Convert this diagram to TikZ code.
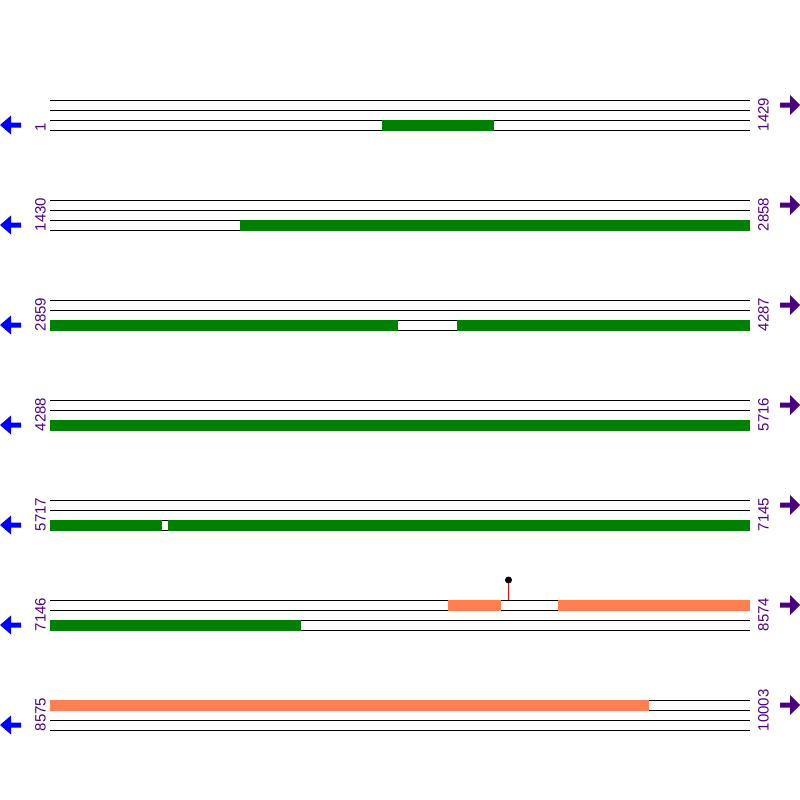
\documentclass[tikz,border=0pt]{standalone}
\usepackage{fontspec}
\setmainfont{Liberation Sans}
\definecolor{orfgreen}{HTML}{008000}
\definecolor{utrcoral}{HTML}{FF7F50}
\definecolor{lblpurple}{HTML}{4B0082}
\definecolor{revblue}{HTML}{0000FF}
\begin{document}
\begin{tikzpicture}[x=1pt,y=-1pt,
  track/.style={black, line width=1pt},
  gbar/.style={fill=orfgreen},
  cbar/.style={fill=utrcoral},
  poslabel/.style={text=lblpurple, font=\fontsize{15}{17}\selectfont, inner sep=0pt, rotate=90, anchor=west},
  revarrow/.style={fill=revblue},
  fwdarrow/.style={fill=lblpurple}]
\useasboundingbox (0,0) rectangle (800,800);
\foreach \i/\l/\r in {1/1/1429, 2/1430/2858, 3/2859/4287, 4/4288/5716, 5/5717/7145, 6/7146/8574, 7/8575/10003} {
  \pgfmathsetmacro\yy{100*\i}
  \foreach \k in {0,10,20,30} {\draw[track] (50,\yy+\k) -- (750,\yy+\k);}
  \node[poslabel] (L\i) at (40.5,\yy+31.5) {\l};
  \node[poslabel] (R\i) at (763.5,\yy+31.5) {\r};
  \fill[revarrow] (0,\yy+25) -- (11,\yy+15.5) -- (11,\yy+22.5) -- (21,\yy+22.5) -- (21,\yy+27.5) -- (11,\yy+27.5) -- (11,\yy+34.5) -- cycle;
  \fill[fwdarrow] (800,\yy+5) -- (790,\yy-5) -- (790,\yy+2.5) -- (780,\yy+2.5) -- (780,\yy+7.5) -- (790,\yy+7.5) -- (790,\yy+15) -- cycle;
}
% row 1
\fill[gbar] (382,119.5) rectangle (494,130.5);
% row 2
\fill[gbar] (240,219.5) rectangle (750,230.5);
% row 3
\fill[gbar] (50,319.5) rectangle (398,330.5);
\fill[gbar] (457,319.5) rectangle (750,330.5);
% row 4
\fill[gbar] (50,419.5) rectangle (750,430.5);
% row 5
\fill[gbar] (50,519.5) rectangle (162,530.5);
\fill[gbar] (168,519.5) rectangle (750,530.5);
% row 6
\fill[cbar] (448,599.5) rectangle (501,610.5);
\fill[cbar] (558,599.5) rectangle (750,610.5);
\fill[gbar] (50,619.5) rectangle (301,630.5);
\draw[red, line width=1pt] (508.5,580) -- (508.5,600);
\fill[black] (508.5,580) circle (3.5);
% row 7
\fill[cbar] (50,699.5) rectangle (649,710.5);
\end{tikzpicture}
\end{document}
